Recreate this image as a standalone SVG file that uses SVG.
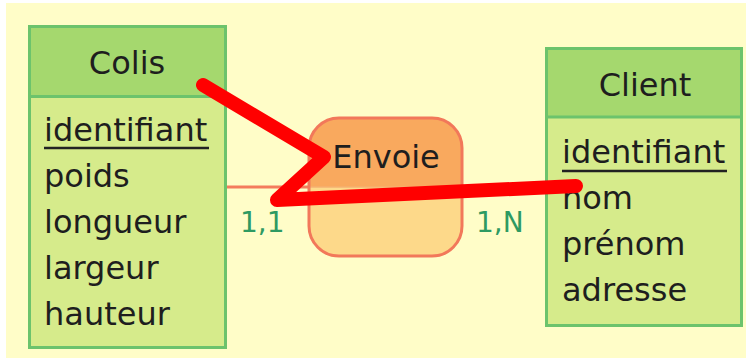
<svg xmlns="http://www.w3.org/2000/svg" width="750" height="362" viewBox="0 0 750 362">
<style>
text{font-family:"DejaVu Sans",sans-serif;fill:#1e1e1e}
.ent{stroke:#6cc36c;stroke-width:3}
.hd{fill:#a5d86e}
.bd{fill:#d6eb8b}
.t{font-size:32px}
.card{font-size:28px;fill:#2e9a62}
.link{stroke:#f47c5c;stroke-width:3;fill:none}
</style>
<rect x="6" y="3" width="740" height="355" fill="#fffdc8"/>
<g id="connectors">
<line class="link" x1="226" y1="187" x2="310" y2="187"/>
<line class="link" x1="462" y1="187" x2="545" y2="187"/>
<text class="card" x="240" y="232">1,1</text>
<text class="card" x="476" y="232">1,N</text>
</g>
<g id="colis">
<rect class="bd" x="29.5" y="26.5" width="196" height="321"/>
<rect class="hd" x="29.5" y="26.5" width="196" height="70"/>
<rect class="ent" x="29.5" y="26.5" width="196" height="321" fill="none"/>
<line class="ent" x1="29.5" y1="96.5" x2="225.5" y2="96.5" stroke-width="2"/>
<text class="t" x="127" y="74" text-anchor="middle">Colis</text>
<text class="t" x="44" y="141">identifiant</text>
<line x1="44" y1="148" x2="209" y2="148" stroke="#222" stroke-width="2.5"/>
<text class="t" x="44" y="187">poids</text>
<text class="t" x="44" y="233">longueur</text>
<text class="t" x="44" y="279">largeur</text>
<text class="t" x="44" y="325">hauteur</text>
</g>
<g id="client">
<rect class="bd" x="546.5" y="48.5" width="195" height="277"/>
<rect class="hd" x="546.5" y="48.5" width="195" height="68"/>
<rect class="ent" x="546.5" y="48.5" width="195" height="277" fill="none"/>
<line class="ent" x1="546.5" y1="117" x2="741.5" y2="117" stroke-width="2"/>
<text class="t" x="645" y="96" text-anchor="middle">Client</text>
<text class="t" x="562" y="163">identifiant</text>
<line x1="562" y1="171" x2="727" y2="171" stroke="#222" stroke-width="2.5"/>
<text class="t" x="562" y="209">nom</text>
<text class="t" x="562" y="255">prénom</text>
<text class="t" x="562" y="301">adresse</text>
</g>
<g id="envoie">
<clipPath id="rc"><rect x="309" y="118" width="153" height="138" rx="30"/></clipPath>
<g clip-path="url(#rc)">
<rect x="309" y="118" width="153" height="138" fill="#fdd98a"/>
<rect x="309" y="118" width="153" height="69" fill="#f9a95e"/>
</g>
<line x1="309" y1="187" x2="462" y2="187" stroke="#f5b070" stroke-width="1.5"/>
<rect x="309" y="118" width="153" height="138" rx="30" fill="none" stroke="#f2785a" stroke-width="3"/>
<text class="t" x="386" y="168" text-anchor="middle">Envoie</text>
</g>
<polyline points="203,85 324,157 277,200 576,186" fill="none" stroke="#ff0000" stroke-width="14" stroke-linejoin="round" stroke-linecap="round"/>
</svg>
